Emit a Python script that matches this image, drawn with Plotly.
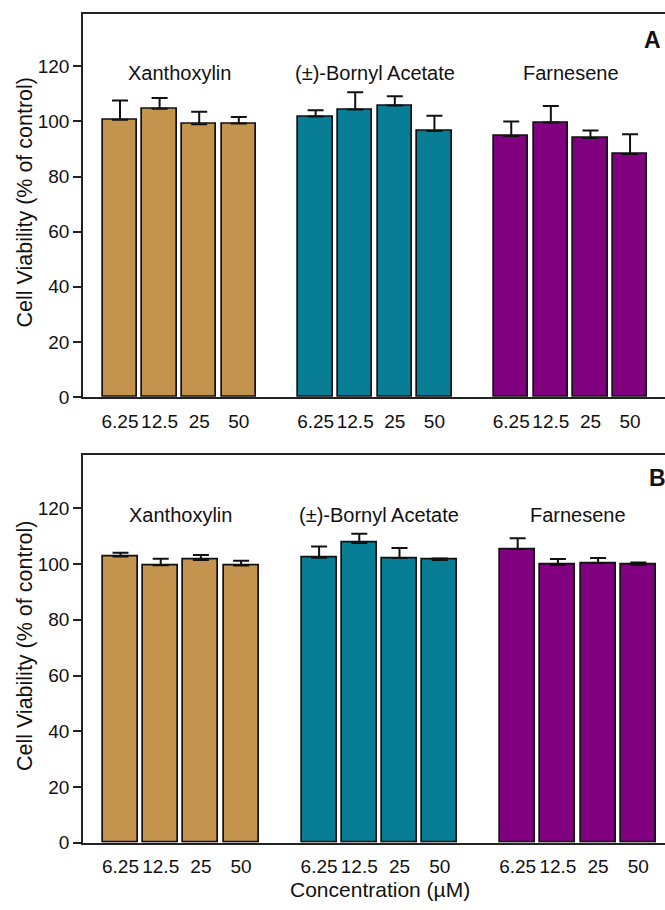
import plotly.graph_objects as go

compounds = ["Xanthoxylin", "(±)-Bornyl Acetate", "Farnesene"]
concentrations = ["6.25", "12.5", "25", "50"]
colors = ["#C4944F", "#077E96", "#800080"]

# Panel A values and SEM (upper)
a_values = [
    [100.6, 104.6, 99.0, 99.2],
    [101.8, 104.3, 105.8, 96.5],
    [94.7, 99.6, 94.0, 88.2],
]
a_errors = [
    [7.0, 3.9, 4.5, 2.4],
    [2.2, 6.3, 3.3, 5.5],
    [5.3, 6.0, 2.7, 7.1],
]
# Panel B values and SEM (upper)
b_values = [
    [102.7, 99.6, 101.5, 99.5],
    [102.3, 107.6, 102.2, 101.5],
    [105.4, 99.7, 100.4, 99.7],
]
b_errors = [
    [1.4, 2.3, 1.8, 1.7],
    [4.0, 3.3, 3.6, 0.5],
    [3.9, 2.1, 1.8, 0.9],
]
y_ticks = [0, 20, 40, 60, 80, 100, 120]

W, H = 665, 910
GROUP_STEP = 4.94
FONT = "Liberation Sans, Arial, sans-serif"

fig = go.Figure()

panels = [
    # (values, errors, xaxis, yaxis, top_px, bottom_px, label, label_x, label_y)
    (a_values, a_errors, "x", "y", 14, 402, "A", 652, 40),
    (b_values, b_errors, "x2", "y2", 461, 853, "B", 657, 484),
]

positions = []
for g in range(len(compounds)):
    for i in range(len(concentrations)):
        positions.append(g * GROUP_STEP + i)

for vals, errs, xa, ya, top, bot, lab, lx, ly in panels:
    for g, comp in enumerate(compounds):
        xs = [g * GROUP_STEP + i for i in range(len(concentrations))]
        fig.add_trace(go.Bar(
            x=xs, y=vals[g], xaxis=xa, yaxis=ya, width=0.87,
            marker=dict(color=colors[g], line=dict(color="#111111", width=1.7)),
            error_y=dict(type="data", array=errs[g], arrayminus=[0] * len(errs[g]),
                         symmetric=False, thickness=2, width=8, color="#111111"),
            showlegend=False, name=comp,
        ))
        fig.add_annotation(x=g * GROUP_STEP + 1.5, y=117.6, xref=xa, yref=ya,
                           text=comp, showarrow=False,
                           font=dict(family=FONT, size=20, color="#111111"))
    fig.add_annotation(x=lx / W, y=1 - ly / H, xref="paper", yref="paper",
                       text="<b>" + lab + "</b>", showarrow=False,
                       xanchor="center", yanchor="middle",
                       font=dict(family=FONT, size=23, color="#111111"))
    fig.add_annotation(x=25 / W, y=1 - ((top + bot) / 2 - 3) / H, xref="paper", yref="paper",
                       text="Cell Viability (% of control)", textangle=-90, showarrow=False,
                       xanchor="center", yanchor="middle",
                       font=dict(family=FONT, size=21.5, color="#111111"))

fig.add_annotation(x=379.5 / W, y=1 - 900 / H, xref="paper", yref="paper",
                   text="Concentration (µM)", showarrow=False,
                   xanchor="center", yanchor="middle",
                   font=dict(family=FONT, size=21, color="#111111"))

axis_common_x = dict(
    tickvals=positions, ticktext=concentrations * len(compounds),
    showline=True, linecolor="#222222", linewidth=1.6, mirror=True,
    ticks="outside", ticklen=6, tickcolor="rgba(0,0,0,0)",
    showgrid=False, zeroline=False,
    tickfont=dict(family=FONT, size=19, color="#111111"),
)
axis_common_y = dict(
    range=[0, 139], tickvals=y_ticks,
    showline=True, linecolor="#222222", linewidth=1.6,
    ticks="outside", ticklen=8, tickwidth=1.6, tickcolor="#222222",
    showgrid=False, zeroline=False,
    tickfont=dict(family=FONT, size=19, color="#111111"),
)

x0 = 83
fig.update_layout(
    width=W, height=H,
    margin=dict(l=0, r=0, t=0, b=0),
    paper_bgcolor="white", plot_bgcolor="white",
    bargap=0,
    xaxis=dict(domain=[x0 / W, 1], range=[-(120 - x0) / 39.6, -(120 - x0) / 39.6 + (W - x0) / 39.6],
               anchor="y", **axis_common_x),
    yaxis=dict(domain=[1 - 402 / H, 1 - 14 / H], anchor="x", **axis_common_y),
    xaxis2=dict(domain=[x0 / W, 1], range=[-(120.5 - x0) / 40.2, -(120.5 - x0) / 40.2 + (W - x0) / 40.2],
                anchor="y2", **axis_common_x),
    yaxis2=dict(domain=[1 - 853 / H, 1 - 461 / H], anchor="x2", **axis_common_y),
)

fig.write_html("out.html", config={"displayModeBar": False},
               post_script="document.body.style.margin='0';document.body.style.overflow='hidden';")
